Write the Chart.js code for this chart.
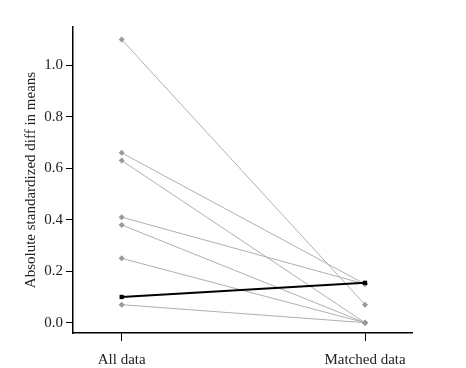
<!DOCTYPE html>
<html>
<head>
<meta charset="utf-8">
<script src="https://cdn.jsdelivr.net/npm/chart.js@4"></script>
<style>
  html, body { margin: 0; padding: 0; background: #fff; }
  #wrap { width: 466px; height: 368px; }
</style>
</head>
<body>
<div id="wrap"><canvas id="myChart" width="466" height="368"></canvas></div>
<script>
// Categories on the x axis
const categories = ['All data', 'Matched data'];

// Each grey line: value before matching and after matching
const allData     = [1.10, 0.66, 0.63, 0.41, 0.38, 0.25, 0.07];
const matchedData = [0.07, 0.15, 0.00, 0.15, 0.00, 0.00, 0.00];

// Black line (mean over covariates)
const meanLine = [0.10, 0.155];

// Tick labels on the y axis
const yTicks = [0.0, 0.2, 0.4, 0.6, 0.8, 1.0];

const serif = "'Liberation Serif', 'DejaVu Serif', serif";

// One dataset per grey line
const datasets = allData.map((v, i) => ({
  data: [{ x: 1, y: v }, { x: 2, y: matchedData[i] }],
  showLine: true,
  order: 1,
  borderColor: '#b0b0b0',
  borderWidth: 1,
  pointStyle: 'rectRot',
  pointRadius: 3,
  pointBackgroundColor: '#999',
  pointBorderColor: '#999',
  pointBorderWidth: 0
}));

// black line goes on top
datasets.push({
  data: meanLine.map((v, i) => ({ x: i + 1, y: v })),
  showLine: true,
  order: 0,
  borderColor: '#000',
  borderWidth: 2,
  pointStyle: 'rect',
  pointRadius: 3,
  pointBackgroundColor: '#000',
  pointBorderColor: '#000',
  pointBorderWidth: 0
});

const config = {
  type: 'scatter',
  data: { datasets: datasets },
  options: {
    responsive: false,
    animation: false,
    layout: { padding: { top: 27, right: 54, left: 0, bottom: 0 } },
    plugins: {
      legend: { display: false },
      tooltip: { enabled: false }
    },
    scales: {
      x: {
        type: 'linear',
        min: 0.8,
        max: 2.193,
        afterBuildTicks: s => { s.ticks = [{ value: 1 }, { value: 2 }]; },
        afterFit: s => { s.height = 35; },
        grid: { drawOnChartArea: false, drawTicks: true, tickLength: 8, color: '#000', lineWidth: 1 },
        border: { display: true, color: '#000', width: 1.5 },
        ticks: {
          autoSkip: false,
          maxRotation: 0,
          padding: 10,
          color: '#222',
          font: { family: serif, size: 15 },
          callback: v => categories[v - 1]
        }
      },
      y: {
        min: -0.04,
        max: 1.149,
        afterBuildTicks: s => { s.ticks = yTicks.map(v => ({ value: v })); },
        afterFit: s => { s.width = 73; },
        grid: { drawOnChartArea: false, drawTicks: true, tickLength: 7, color: '#000', lineWidth: 1 },
        border: { display: true, color: '#000', width: 1.5 },
        title: {
          display: true,
          text: 'Absolute standardized diff in means',
          color: '#222',
          font: { family: serif, size: 15 },
          padding: { top: 22, bottom: 0 }
        },
        ticks: {
          padding: 3,
          color: '#222',
          font: { family: serif, size: 15 },
          callback: v => v.toFixed(1)
        }
      }
    }
  }
};

const ctx = document.getElementById('myChart').getContext('2d');
new Chart(ctx, config);
</script>
</body>
</html>
